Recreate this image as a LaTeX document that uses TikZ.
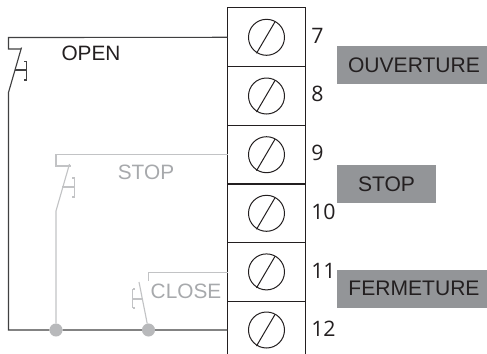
\documentclass[tikz,border=0pt]{standalone}
\usepackage{fontspec}
\setmainfont{Liberation Sans}
\newfontfamily\numfont{Open Sans}
\definecolor{ink}{HTML}{231F20}
\definecolor{wiredark}{HTML}{404041}
\definecolor{wirelight}{HTML}{C2C3C5}
\definecolor{textlight}{HTML}{A7A9AC}
\definecolor{tagfill}{HTML}{939598}
\definecolor{dotfill}{HTML}{B8B9BB}
\tikzset{
  cell/.style={draw=ink,line width=0.75pt,minimum width=58.5pt,minimum height=44pt,inner sep=0pt,outer sep=0pt},
  screw/.style={draw=ink,line width=0.75pt,circle,minimum size=27pt,inner sep=0pt,outer sep=0pt},
  slot/.style={draw=ink,line width=0.75pt},
  num/.style={font=\numfont\fontsize{16}{18}\selectfont,text=ink,anchor=west,inner sep=0pt},
  tag/.style={fill=tagfill,minimum height=28.5pt,inner sep=0pt,outer sep=0pt,text=ink,font=\fontsize{15.8}{17}\selectfont},
  darkwire/.style={draw=wiredark,line width=0.85pt},
  lightwire/.style={draw=wirelight,line width=0.85pt},
  lab/.style={inner sep=0pt,font=\fontsize{15.6}{17}\selectfont},
  dot/.style={circle,fill=dotfill,minimum size=9.8pt,inner sep=0pt,outer sep=0pt}
}
\begin{document}
\begin{tikzpicture}[x=0.75pt,y=-0.75pt]
\useasboundingbox (0,0) rectangle (487,354);
% terminal block
\foreach \n/\y in {7/37.3,8/96,9/154.7,10/213.3,11/271.9}{
  \node[cell] (c\n) at (266.5,\y) {};
}
\draw[draw=ink,line width=0.75pt] (227.5,301) -- (227.5,354) (305.5,301) -- (305.5,354);
\coordinate (c12w) at (227.5,330);
\foreach \n/\y in {7/37.3,8/96,9/154.7,10/213.3,11/271.9,12/330}{
  \node[screw] (s\n) at (266.5,\y) {};
  \draw[slot] ([shift={(-10,16)}]s\n.center) -- ([shift={(8.5,-15.5)}]s\n.center);
}
\node[num] (n7) at (311,35.5) {7};
\node[num] (n8) at (311,94) {8};
\node[num] (n9) at (311,153) {9};
\node[num] (n10) at (311,212) {10};
\node[num] (n11) at (311,271) {11};
\node[num] (n12) at (311,329) {12};
% tags
\node[tag,minimum width=112.5pt] (t1) at (412,65) {\hspace*{3pt}OUVERTURE};
\node[tag,minimum width=74.5pt] (t2) at (386.5,184) {STOP};
\node[tag,minimum width=112.5pt] (t3) at (412,289) {\hspace*{3pt}\raisebox{1pt}{FERMETURE}};
% dots
\coordinate (w0) at (8.5,330);
\node[dot] (d1) at (56,330) {};
\node[dot] (d2) at (148.5,330) {};
% OPEN
\coordinate (oa) at (8.5,37.5);
\coordinate (ob) at (8.5,49);
\coordinate (oc) at (21,49);
\coordinate (od) at (8.5,92.5);
\coordinate (oe) at (21.5,47.5);
\draw[darkwire] (c7.west) -- (oa) -- (ob) -- (oc);
\draw[darkwire] (oe) -- (od) -- (w0) -- (d1) -- (d2) -- (c12w);
\draw[darkwire] (15,70) -- (26.5,70) (26.5,61.5) -- (26.5,80) (24.5,61.5) -- (26.5,61.5) (24.5,80) -- (26.5,80);
\node[lab,text=ink] (lo) at (91,53.5) {OPEN};
% STOP
\coordinate (sa) at (56,154.7);
\coordinate (sb) at (56,166);
\coordinate (sc) at (71,166);
\coordinate (sd) at (56,211);
\coordinate (se) at (69.5,164);
\draw[lightwire] (c9.west) -- (sa) -- (sb) -- (sc);
\draw[lightwire] (se) -- (sd) -- (d1);
\draw[lightwire] (62,187) -- (74.5,187) (74.5,178) -- (74.5,197) (72,178) -- (74.5,178) (72,197) -- (74.5,197);
\node[lab,text=textlight] (ls) at (146,172.5) {STOP};
% CLOSE
\coordinate (ca) at (148.5,272.7);
\coordinate (cb) at (148.5,281);
\coordinate (cc) at (139,282);
\draw[lightwire] (c11.west |- ca) -- (ca) -- (cb);
\draw[lightwire] (cc) -- (d2);
\draw[lightwire] (143,299) -- (132.5,299) (132.5,289) -- (132.5,308) (135,289) -- (132.5,289) (135,308) -- (132.5,308);
\node[lab,text=textlight] (lc) at (186,291.5) {CLOSE};
\end{tikzpicture}
\end{document}
